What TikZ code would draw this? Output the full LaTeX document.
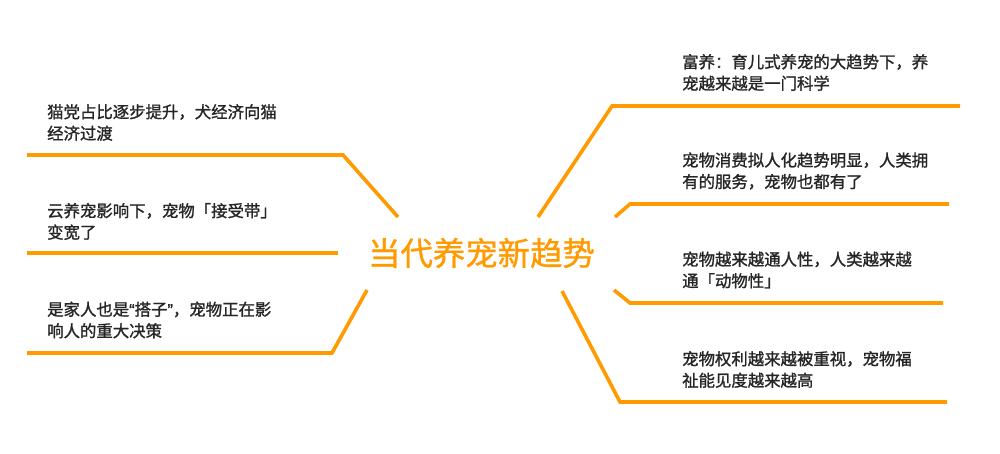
\documentclass[tikz,border=0pt]{standalone}
\usepackage{fontspec}
\setmainfont{Noto Sans CJK SC}
\newfontfamily\leaffont[FakeBold=1.3]{Noto Sans CJK SC}
\newfontfamily\quotefont[FakeBold=1.3]{Liberation Sans}
\newfontfamily\titlefont[FakeBold=1.0]{Noto Sans CJK SC}
\definecolor{branch}{HTML}{FF9A00}
\definecolor{txt}{HTML}{262626}
\begin{document}
\begin{tikzpicture}[x=1pt,y=-1pt,
  branchline/.style={draw=branch,line width=3.6pt,line cap=butt,line join=miter},
  leaf/.style={anchor=west,inner sep=0pt,align=left,text=txt,font=\leaffont\fontsize{16.4}{21.5}\selectfont},
  title/.style={inner sep=0pt,text=branch,font=\titlefont\fontsize{32.4}{36}\selectfont}]
\useasboundingbox[fill=white] (0,0) rectangle (1000,453);
\node[title] (c) at (481.5,253) {当代养宠新趋势};
% left
\node[leaf] (l1) at (47,122.5) {猫党占比逐步提升，犬经济向猫\\经济过渡};
\node[leaf] (l2) at (47,221.5) {云养宠影响下，宠物「接受带」\\变宽了};
\node[leaf] (l3) at (47,320) {是家人也是{\quotefont “}搭子{\quotefont ”}，宠物正在影\\响人的重大决策};
% right
\node[leaf] (r1) at (682,72.5) {富养：育儿式养宠的大趋势下，养\\宠越来越是一门科学};
\node[leaf] (r2) at (682,171) {宠物消费拟人化趋势明显，人类拥\\有的服务，宠物也都有了};
\node[leaf] (r3) at (682,270) {宠物越来越通人性，人类越来越\\通「动物性」};
\node[leaf] (r4) at (682,369.5) {宠物权利越来越被重视，宠物福\\祉能见度越来越高};
% branch anchors
\coordinate (a1) at (398,217);
\coordinate (a2) at (338,253);
\coordinate (a3) at (367,290);
\coordinate (b1) at (538,217);
\coordinate (b2) at (615,217);
\coordinate (b3) at (614,290);
\coordinate (b4) at (562,291);
\coordinate (e1) at (27,155);
\coordinate (e2) at (27,253);
\coordinate (e3) at (27,353);
\coordinate (f1) at (960,106);
\coordinate (f2) at (949,204);
\coordinate (f3) at (943,303);
\coordinate (f4) at (947,402);
\draw[branchline] (a1) -- (343,155) -- (e1);
\draw[branchline] (a2) -- (e2);
\draw[branchline] (a3) -- (332,353) -- (e3);
\draw[branchline] (b1) -- (612,106) -- (f1);
\draw[branchline] (b2) -- (630,204) -- (f2);
\draw[branchline] (b3) -- (630,303) -- (f3);
\draw[branchline] (b4) -- (620,402) -- (f4);
\end{tikzpicture}
\end{document}
